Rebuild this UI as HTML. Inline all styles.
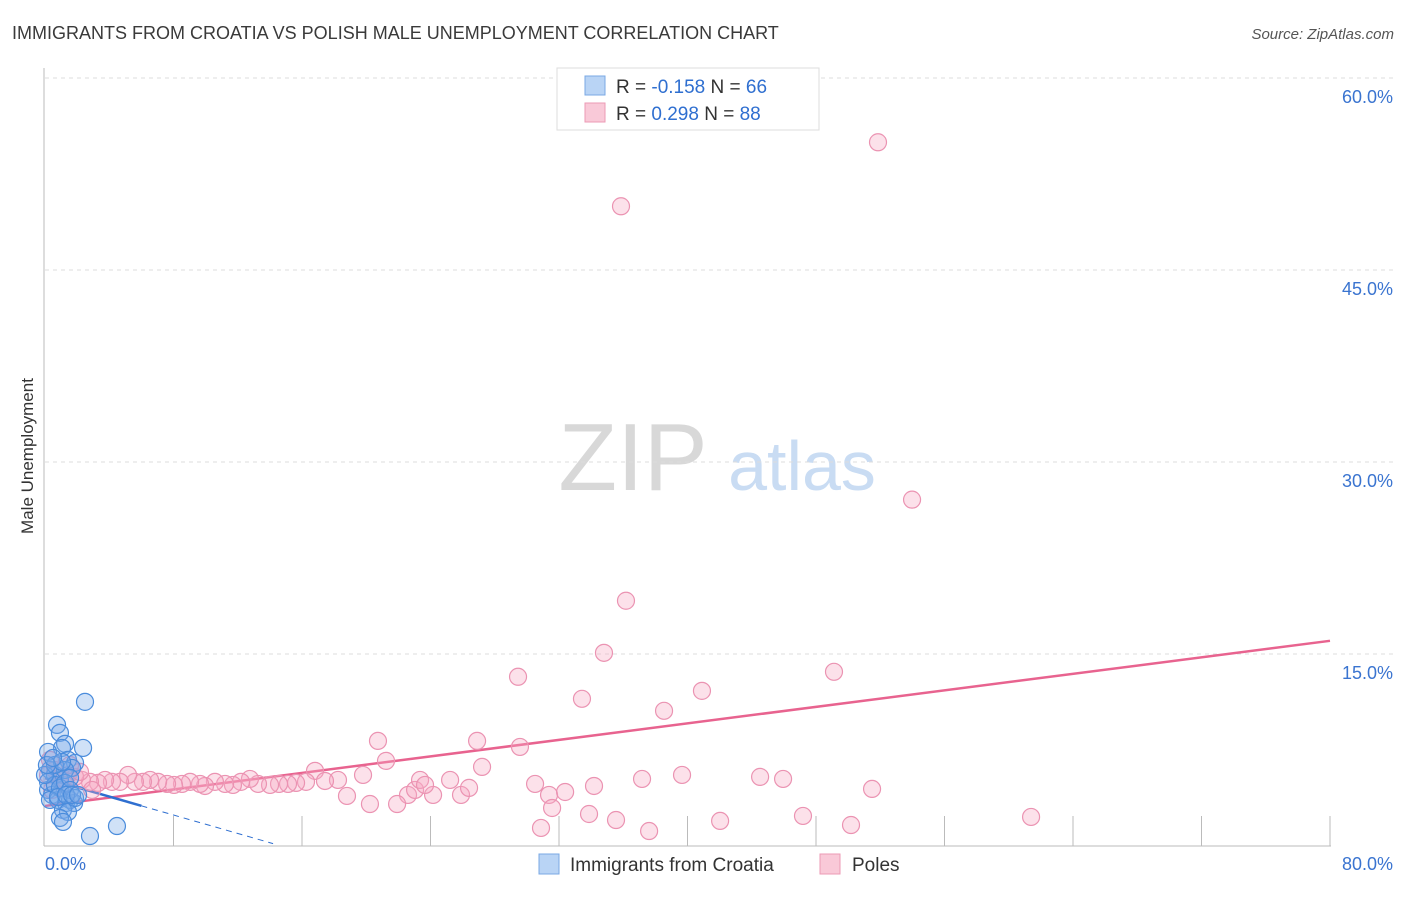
<!DOCTYPE html>
<html><head><meta charset="utf-8"><style>
body{margin:0;background:#fff;font-family:"Liberation Sans",sans-serif;}
svg text{font-family:"Liberation Sans",sans-serif;}
</style></head><body>
<svg id="chart" width="1406" height="892" xmlns="http://www.w3.org/2000/svg">
<text x="12" y="39" font-size="18" fill="#3a3a3a">IMMIGRANTS FROM CROATIA VS POLISH MALE UNEMPLOYMENT CORRELATION CHART</text>
<text x="1394" y="39" font-size="15" fill="#555" font-style="italic" text-anchor="end">Source: ZipAtlas.com</text>
<text transform="translate(33,456) rotate(-90)" font-size="17" fill="#333" text-anchor="middle">Male Unemployment</text>
<g>
<text x="633" y="490" font-size="96" font-family="Liberation Serif,serif" fill="#d8d8d8" text-anchor="middle">ZIP</text>
<text x="802" y="490" font-size="70" fill="#c9dcf3" text-anchor="middle">atlas</text>
</g>
<g id="grid"></g>
<g id="axes"></g>
<g id="trend"></g>
<g id="pts"></g>
<g>
<rect x="557" y="68" width="262" height="62" fill="#fff" stroke="#ddd"/>
<rect x="585" y="76" width="20" height="19" fill="#b9d4f5" stroke="#7aa8e4"/>
<rect x="585" y="103" width="20" height="19" fill="#f9c9d8" stroke="#ec9ab5"/>
<text x="616" y="93" font-size="19" fill="#333">R = <tspan fill="#2f6fd0">-0.158</tspan>   N = <tspan fill="#2f6fd0">66</tspan></text>
<text x="616" y="120" font-size="19" fill="#333">R =  <tspan fill="#2f6fd0">0.298</tspan>   N = <tspan fill="#2f6fd0">88</tspan></text>
</g>
<g>
<rect x="539" y="854" width="20" height="20" fill="#b9d4f5" stroke="#7aa8e4"/>
<text x="570" y="871" font-size="19" fill="#333">Immigrants from Croatia</text>
<rect x="820" y="854" width="20" height="20" fill="#f9c9d8" stroke="#ec9ab5"/>
<text x="852" y="871" font-size="19" fill="#333">Poles</text>
</g>
</svg>
<script>
const yTicks=[15,30,45,60];
const xTickLabels=["0.0%","80.0%"];
const polesX=[51.86,35.86,53.98,36.17,34.80,29.45,33.43,40.90,38.54,49.12,20.73,26.90,29.57,21.23,16.81,27.21,19.80,37.17,39.66,44.52,45.95,51.49,61.39,47.19,50.18,42.03,37.61,30.88,35.55,33.87,34.18,31.38,32.38,30.51,31.57,25.22,24.16,25.90,26.40,22.60,23.04,23.35,23.66,21.92,20.23,18.80,18.24,17.43,16.25,15.63,15.13,14.57,14.01,13.26,12.76,12.20,11.70,11.21,10.58,9.96,9.65,9.03,8.53,8.03,7.60,7.04,6.54,6.10,5.60,5.17,4.67,4.17,3.74,3.30,2.80,2.30,1.87,1.43,0.93,0.62,0.31,0.19,0.44,1.25,2.18,2.93,1.56];
const polesY=[54.98,49.98,27.06,19.16,15.09,13.22,11.50,12.12,10.56,13.61,8.21,8.21,7.74,6.65,5.87,6.18,5.55,5.24,5.55,5.40,5.24,4.46,2.27,2.35,1.64,1.96,1.17,1.41,2.03,2.50,4.69,3.99,4.22,4.85,2.97,5.16,3.99,3.99,4.54,3.99,4.38,5.16,4.77,3.28,3.28,3.91,5.16,5.08,5.01,4.93,4.85,4.85,4.77,4.85,5.24,5.01,4.77,4.85,5.01,4.69,4.85,5.01,4.85,4.77,4.85,5.01,5.16,5.01,5.01,5.55,5.01,5.01,5.16,4.93,5.01,5.16,5.40,5.55,5.32,5.94,6.73,5.55,4.38,4.77,5.79,4.38,6.33];
const croatiaX=[2.49,0.75,0.93,1.25,1.06,2.37,1.43,1.87,1.68,0.19,0.31,0.62,0.93,1.25,0.19,0.44,0.81,1.31,1.56,1.81,1.12,1.43,0.93,1.12,2.80,4.48,0.19,0.62,0.93,1.25,1.56,0,0.31,0.62,1.06,1.56,1.87,0.81,0.12,0.50,1.31,1.68,2.06];
const croatiaY=[11.26,9.46,8.84,7.98,7.66,7.66,6.73,6.49,6.10,7.35,5.94,5.55,5.16,5.94,4.38,3.99,3.60,3.36,3.60,3.36,2.82,2.66,2.19,1.88,0.78,1.56,5.01,4.77,4.54,4.93,5.32,5.55,3.60,6.33,6.57,4.38,3.75,3.83,6.33,6.88,3.99,3.99,3.99];
const polesTrend=[3.13,16.03];
const croatiaTrend=[5.3,-0.36];
const NS="http://www.w3.org/2000/svg";
const X0=45,X1=1330,Y0=846,YTOP=78;
const sx=v=>X0+(v/80)*(X1-X0);
const sy=v=>Y0-(v/60)*(Y0-YTOP);
function mk(t,a,p){const e=document.createElementNS(NS,t);for(const k in a)e.setAttribute(k,a[k]);p.appendChild(e);return e;}
const grid=document.getElementById('grid'),axes=document.getElementById('axes');
yTicks.forEach(v=>{
 const l=mk('line',{x1:45,x2:1393,y1:sy(v),y2:sy(v),stroke:'#ddd','stroke-dasharray':'4,4'},grid);
 
 
 const t=mk('text',{x:1393,y:sy(v)+25,'font-size':18,fill:'#3a74d0','text-anchor':'end'},grid);
 t.textContent=v.toFixed(1)+'%';
 
 
});
const ya=mk('line',{x1:44,x2:44,y1:68,y2:846,stroke:'#bbb'},axes);


const xa=mk('line',{x1:44,x2:1331,y1:846,y2:846,stroke:'#bbb'},axes);


for(let i=1;i<=10;i++){
 const tk=mk('line',{x1:sx(i*8),x2:sx(i*8),y1:816,y2:846,stroke:'#bbb'},axes);
 
 
}
[[0,'start',45],[80,'end',1393]].forEach((d,i)=>{
 const t=mk('text',{x:d[2],y:870,'font-size':18,fill:'#3a74d0','text-anchor':d[1]},axes);
 t.textContent=xTickLabels[i];
 
 
});
const tr=document.getElementById('trend');
const pl=mk('line',{x1:sx(0),y1:sy(polesTrend[0]),x2:sx(80),y2:sy(polesTrend[1]),stroke:'#e8638f','stroke-width':2.5},tr);


const cy=x=>croatiaTrend[0]+croatiaTrend[1]*x;
const cs=mk('line',{x1:sx(0),y1:sy(cy(0)),x2:sx(6),y2:sy(cy(6)),stroke:'#2f6fd0','stroke-width':2.5},tr);


const cd=mk('line',{x1:sx(6),y1:sy(cy(6)),x2:sx(14.2),y2:sy(cy(14.2)),stroke:'#2f6fd0','stroke-width':1,'stroke-dasharray':'6,5'},tr);


const pts=document.getElementById('pts');
polesX.forEach((x,i)=>{
 const c=mk('circle',{cx:sx(x),cy:sy(polesY[i]),r:8.5,fill:'rgba(246,168,196,0.35)',stroke:'#eb93b2','stroke-width':1.2},pts);
 
 
});
croatiaX.forEach((x,i)=>{
 const c=mk('circle',{cx:sx(x),cy:sy(croatiaY[i]),r:8.5,fill:'rgba(120,168,232,0.35)',stroke:'#4a8cdc','stroke-width':1.2},pts);
 
 
});
</script>
</body></html>
